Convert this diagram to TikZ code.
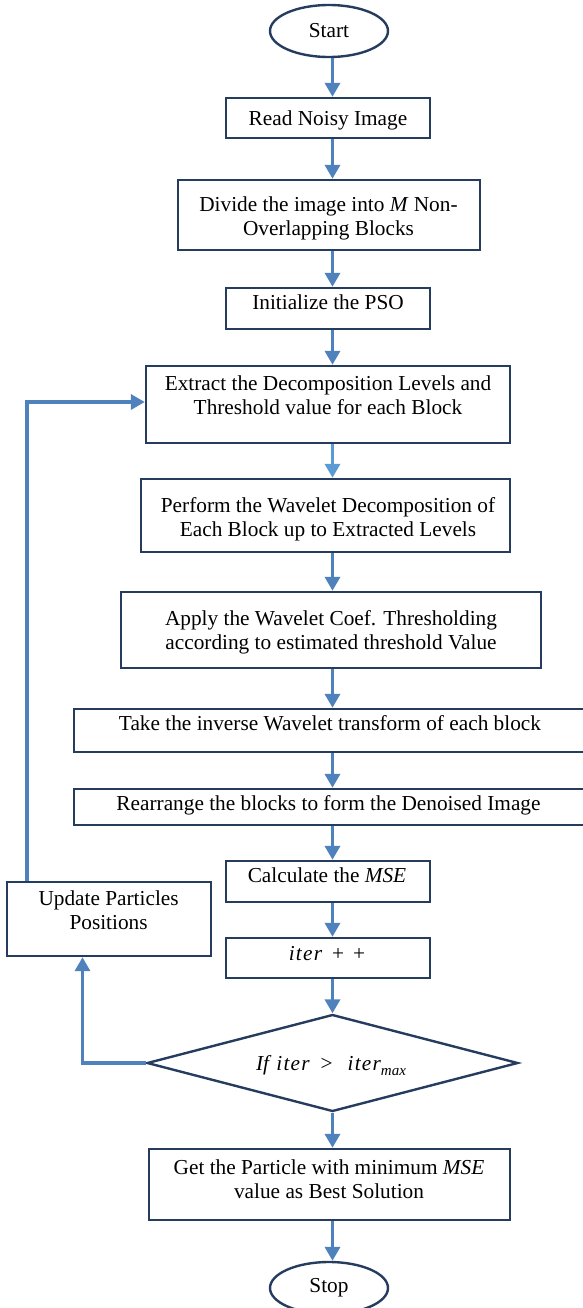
\documentclass[tikz,border=0pt]{standalone}
\usepackage{fontspec}
\setmainfont{Liberation Serif}
\usetikzlibrary{arrows.meta,shapes.geometric,fit}
\definecolor{boxline}{RGB}{38,60,95}
\definecolor{flow}{RGB}{79,129,189}
\definecolor{flowlight}{RGB}{91,155,213}
% the loop counter, set as a slightly spaced math italic
\newcommand{\itervar}{\textit{i\kern0.6pt t\kern0.6pt e\kern0.6pt r}}
\begin{document}
\begin{tikzpicture}[x=0.5pt,y=-0.5pt,
  font=\fontsize{10.65pt}{12pt}\selectfont,
  stepbox/.style={draw=boxline,line width=1.2pt,rectangle,inner sep=0pt},
  terminal/.style={draw=boxline,line width=1.2pt,ellipse,inner sep=0pt,
    minimum width=59pt,minimum height=26pt},
  decision/.style={draw=boxline,line width=1.2pt,diamond,inner sep=0pt,
    minimum width=185.5pt,minimum height=48.5pt},
  txt/.style={inner sep=0pt,align=center},
  flowarrow/.style={draw=flow,line width=1.8pt,
    -{Triangle[width=7.5pt,length=7pt]}},
  lightarrow/.style={flowarrow,draw=flowlight}]
\useasboundingbox (0,0) rectangle (583,1308);
\clip (0,0) rectangle (583,1308);

% shapes
\node[terminal] (start) at (329,31) {Start};
\node[stepbox,fit={(226,98) (430,138)}] (read) {};
\node[stepbox,fit={(178,180) (480,250)}] (divide) {};
\node[stepbox,fit={(226,288) (430,329)}] (init) {};
\node[stepbox,fit={(146,366) (510,443)}] (extract) {};
\node[stepbox,fit={(141,479) (510,552)}] (perform) {};
\node[stepbox,fit={(121,592) (541,668)}] (apply) {};
\node[stepbox,fit={(74,709) (587,752)}] (inverse) {};
\node[stepbox,fit={(74,789) (587,825)}] (rearrange) {};
\node[stepbox,fit={(226,861) (430,902)}] (mse) {};
\node[stepbox,fit={(226,938) (430,978)}] (iter) {};
\node[stepbox,fit={(7,882) (211,956)}] (update) {};
\node[decision] (decide) at (332.5,1063) {};
\node[stepbox,fit={(149,1149) (510,1220)}] (best) {};
\node[terminal] (stop) at (329,1288) {Stop};

% texts
\node[txt,anchor=base] (read-t) at (328,125) {Read Noisy Image};
\node[txt] (divide-t) at (328.5,218.5) {Divide the image into \textit{M} Non-\\Overlapping Blocks};
\node[txt,anchor=base] (init-t) at (328,309) {Initialize the PSO};
\node[txt] (extract-t) at (328,395) {Extract the Decomposition Levels and\\Threshold value for each Block};
\node[txt] (perform-t) at (328,519) {Perform the Wavelet Decomposition of\\Each Block up to Extracted Levels};
\node[txt] (apply-t) at (331,632.5) {Apply the Wavelet Coef. Thresholding\\according to estimated threshold Value};
\node[txt,anchor=base] (inverse-t) at (330,730) {Take the inverse Wavelet transform of each block};
\node[txt,anchor=base] (rearrange-t) at (328.5,810) {Rearrange the blocks to form the Denoised Image};
\node[txt,anchor=base] (mse-t) at (327,882) {Calculate the \textit{MSE}};
\node[txt,anchor=base] (iter-t) at (327,960) {\itervar\hspace{5pt}+\hspace{4.5pt}+};
\node[txt] (update-t) at (108.6,910) {Update Particles\\Positions};
\node[txt,anchor=base] (decide-t) at (331,1070) {\textit{If}\hspace{2.5pt}\itervar\hspace{5.5pt}>\hspace{7.5pt}\itervar\raisebox{-2.5pt}{\fontsize{7.5pt}{8pt}\selectfont\textit{max}}};
\node[txt] (best-t) at (329,1179) {Get the Particle with minimum \textit{MSE}\\value as Best Solution};

% connectors
\coordinate (col) at (332.5,0);
\coordinate (loopc) at (27,402);
\coordinate (backc) at (82.5,1063);
\draw[flowarrow] (start.south -| col) -- (read.north -| col);
\draw[flowarrow] (read.south -| col) -- (divide.north -| col);
\draw[flowarrow] (divide.south -| col) -- (init.north -| col);
\draw[flowarrow] (init.south -| col) -- (extract.north -| col);
\draw[lightarrow] (extract.south -| col) -- (perform.north -| col);
\draw[flowarrow] (perform.south -| col) -- (apply.north -| col);
\draw[flowarrow] (apply.south -| col) -- (inverse.north -| col);
\draw[flowarrow] (inverse.south -| col) -- (rearrange.north -| col);
\draw[flowarrow] (rearrange.south -| col) -- (mse.north -| col);
\draw[flowarrow] (mse.south -| col) -- (iter.north -| col);
\draw[flowarrow] (iter.south -| col) -- (decide.north);
\draw[flowarrow] (decide.south) -- (best.north -| decide.south);
\draw[flowarrow] (best.south -| col) -- (stop.north -| col);
\draw[flowarrow] (decide.west) -| (update.south -| backc);
\draw[flowarrow] (update.north -| loopc) |- (extract.west |- loopc);
\end{tikzpicture}
\end{document}
